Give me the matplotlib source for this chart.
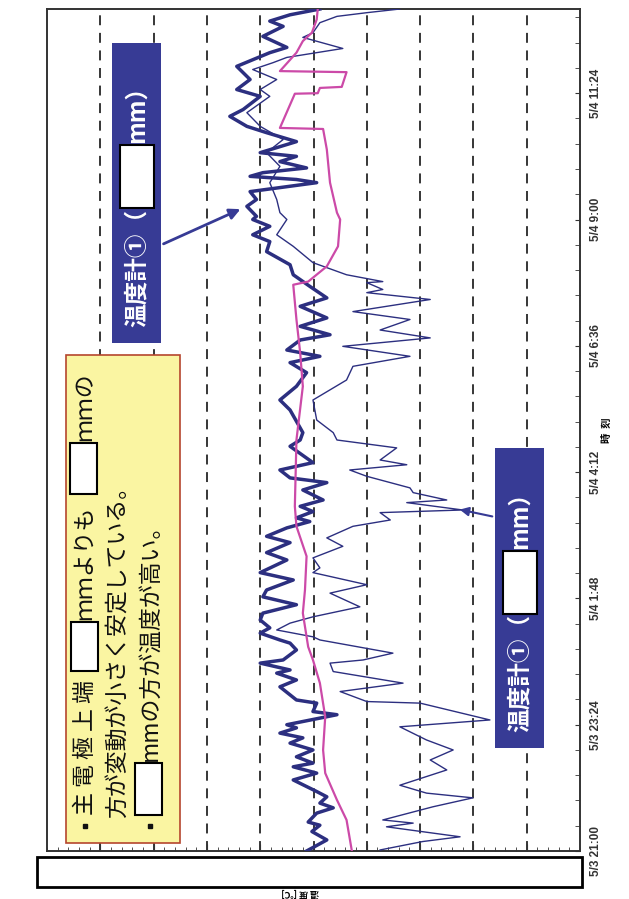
import numpy as np
import matplotlib
matplotlib.use('Agg')
import matplotlib.pyplot as plt
from matplotlib.patches import Rectangle
from datetime import datetime, timedelta

plt.rcParams['font.family'] = ['Noto Sans CJK JP', 'DejaVu Sans']

# hours after 5/3 21:00, temperature [C]
start = datetime(2000, 5, 3, 21, 0)

thick = [(0.00,25.13),(0.21,24.75),(0.37,25.03),(0.49,24.88),(0.55,25.10),(0.72,24.94),(0.82,24.63),
         (0.91,24.88),(1.03,24.75),(1.13,24.94),(1.35,25.38),(1.48,24.94),(1.60,25.38),(1.67,25.01),
         (1.79,25.32),(1.92,25.01),(2.05,25.44),(2.15,25.20),(2.24,25.63),(2.34,25.32),(2.40,25.50),
         (2.59,24.56),(2.65,25.01),(2.81,24.94),(2.87,25.32),(3.12,25.63),(3.25,25.32),(3.38,25.69),
         (3.44,25.44),(3.57,26.00),(3.63,25.57),(3.82,25.32),(3.95,25.44),(4.01,25.63),(4.14,26.00),
         (4.24,25.82),(4.39,26.00),(4.52,25.95),(4.68,25.32),(4.83,25.95),(4.96,25.88),(5.15,25.38),
         (5.29,26.00),(5.53,25.50),(5.67,25.88),(5.86,25.44),(5.98,25.88),(6.14,25.50),(6.26,25.07),
         (6.33,25.32),(6.45,25.01),(6.55,25.25),(6.67,24.82),(6.86,25.20),(7.00,24.75),(7.09,25.44),
         (7.24,25.63),(7.38,25.01),(7.69,25.44),(7.81,25.25),(7.95,25.20),(8.38,25.44),(8.57,25.63),
         (8.83,25.32),(9.09,25.13),(9.28,25.44),(9.40,24.88),(9.52,25.50),(9.71,25.25),(9.81,24.69),
         (9.97,25.25),(10.13,24.75),(10.35,25.25),(10.51,24.75),(10.73,25.07),(10.95,25.38),(11.14,25.44),
         (11.39,25.88),(11.58,25.82),(11.71,26.14),(11.87,25.82),(12.00,26.14),(12.06,26.07),(12.25,26.25),
         (12.38,26.07),(12.53,26.19),(12.70,24.94),(12.76,25.32),(12.82,26.19),(12.89,25.95),(12.98,25.13),
         (13.10,25.63),(13.20,25.32),(13.27,26.00),(13.48,25.32),(13.65,25.88),(13.77,26.25),(13.96,26.57),
         (14.09,26.32),(14.34,26.00),(14.47,26.44),(14.66,26.19),(14.91,26.44),(15.17,25.82),(15.27,25.50),
         (15.48,25.95),(15.67,25.57),(15.77,25.82),(15.89,25.44),(16.00,24.88)]

thin = [(0.02,23.75),(0.18,22.95),(0.27,22.25),(0.46,23.63),(0.53,23.13),(0.59,23.70),(0.84,22.76),
        (1.01,22.01),(1.10,22.88),(1.25,23.38),(1.54,22.50),(1.73,22.81),(1.92,22.38),(2.11,22.88),
        (2.36,23.38),(2.49,21.69),(2.81,23.00),(2.84,24.00),(3.03,24.50),(3.19,23.32),(3.41,24.63),
        (3.57,24.69),(3.63,24.07),(3.76,23.51),(4.01,24.88),(4.07,25.01),(4.20,25.69),(4.33,25.44),
        (4.45,25.01),(4.64,24.13),(4.90,24.69),(5.06,24.00),(5.29,25.01),(5.38,24.88),(5.57,25.01),
        (5.79,24.45),(5.95,24.75),(6.17,24.26),(6.29,23.56),(6.43,23.75),(6.48,22.20),(6.62,23.25),
        (6.67,22.50),(6.81,23.13),(6.90,23.19),(7.12,24.00),(7.24,24.32),(7.34,23.25),(7.43,23.75),
        (7.66,23.44),(7.81,24.56),(7.95,24.63),(8.19,24.94),(8.57,25.01),(8.95,24.38),(9.21,24.26),
        (9.40,23.19),(9.59,24.45),(9.75,22.81),(9.90,23.75),(10.10,23.19),(10.25,24.26),(10.35,23.63),
        (10.48,22.81),(10.61,24.00),(10.67,23.70),(10.80,24.00),(10.82,23.70),(10.95,24.38),(11.18,25.01),
        (11.49,25.38),(11.71,25.69),(12.00,25.50),(12.13,25.63),(12.38,25.69),(12.70,25.82),(13.01,25.63),
        (13.27,25.88),(13.52,25.57),(13.77,26.00),(14.03,26.25),(14.34,25.82),(14.47,26.00),(14.66,25.69),
        (14.85,26.14),(14.98,25.76),(15.08,25.50),(15.25,24.45),(15.46,25.20),(15.55,25.01),(15.74,24.88),
        (15.86,24.56),(15.93,24.00),(16.00,23.38)]

electrode = [(0.00,24.28),(0.59,24.38),(0.97,24.56),(1.48,24.78),(1.92,24.82),(2.55,24.78),(3.19,24.88),
             (3.63,25.01),(3.88,25.10),(4.52,25.20),(4.96,25.16),(5.60,25.13),(6.17,25.32),(6.55,25.35),
             (7.81,25.32),(8.83,25.20),(9.47,25.25),(10.10,25.32),(10.76,25.38),(10.82,25.10),(11.11,24.75),
             (11.49,24.54),(12.00,24.50),(12.13,24.56),(12.70,24.69),(13.33,24.75),(13.72,24.82),(13.74,25.63),
             (14.39,25.35),(14.40,24.92),(14.50,24.88),(14.52,24.47),(14.80,24.38),(14.82,25.63),(15.17,25.32),
             (15.39,25.20),(15.55,25.03),(15.80,24.94),(16.00,24.92)]

NAVY = '#2C2F80'
BOX_BLUE = '#373B95'
MAGENTA = '#CC4AA8'

W, H = 629, 899
fig = plt.figure(figsize=(W / 100, H / 100), dpi=100)
fig.patch.set_facecolor('white')

# chart is drawn turned on its side: temperature across, time upward
ax = fig.add_axes([47 / W, 1 - 851 / H, (580 - 47) / W, (851 - 9) / H])
for data, c, lw in [(thick, NAVY, 2.5), (thin, NAVY, 1.0), (electrode, MAGENTA, 1.6)]:
    h, t = np.array(data).T
    ax.plot(t, h, color=c, lw=lw, solid_joinstyle='round', zorder=3)

ax.set_xlim(30, 20)
ax.set_ylim(0, 16)
ax.set_xticks(np.arange(21, 30, 1))
ax.set_xticks(np.arange(20, 30.01, 0.2), minor=True)
ax.grid(axis='x', which='major', color='black', lw=1.1, linestyle=(0, (6.5, 5)))
ax.tick_params(axis='x', which='both', direction='in', labelbottom=False, color='#333333')
ax.tick_params(axis='x', which='major', length=5)
ax.tick_params(axis='x', which='minor', length=3)

major_h = np.arange(0, 16.01, 2.4)
labels = []
for v in major_h:
    d = start + timedelta(minutes=int(round(v * 60)))
    labels.append(f'{d.month}/{d.day} {d.hour}:{d.minute:02d}')
ax.yaxis.tick_right()
ax.set_yticks(major_h, labels=labels, rotation=90, va='center', fontsize=8.5,
              fontweight='bold', color='#333333',
              fontfamily=['Liberation Sans Narrow', 'Liberation Sans', 'DejaVu Sans'])
ax.set_yticks(np.arange(0, 16.01, 0.48), minor=True)
ax.tick_params(axis='y', which='both', direction='in', length=3.5, pad=7, color='#333333')
for s in ax.spines.values():
    s.set_color('#333333')
    s.set_linewidth(1.4)

# overlay in pixel units for the callouts
ov = fig.add_axes([0, 0, 1, 1], zorder=5)
ov.set_xlim(0, W)
ov.set_ylim(H, 0)
ov.axis('off')

ov.add_patch(Rectangle((37, 857), 545, 30, fc='white', ec='black', lw=2))
ov.text(300, 893, '温 度 [℃]', rotation=180, ha='center', va='center', fontsize=6.5, fontweight='bold')
ov.text(607, 430, '時  刻', rotation=90, ha='center', va='center', fontsize=7.5, fontweight='bold')

# yellow note
ov.add_patch(Rectangle((66, 355), 114, 488, fc='#FAF5A2', ec='#B5462E', lw=1.2))
fs = 16.5
kw = dict(rotation=90, ha='center', va='bottom', fontsize=fs, color='#111111')
ov.plot([85, 150], [826, 826], ls='none', marker='s', ms=3.2, color='#111111')
ov.text(85, 815, '主 電 極 上 端', **kw)
ov.add_patch(Rectangle((71, 622), 27, 49, fc='white', ec='black', lw=1.5))
ov.text(85, 620, 'ｍｍよりも', **kw)
ov.add_patch(Rectangle((70, 443), 27, 51, fc='white', ec='black', lw=1.5))
ov.text(85, 441, 'ｍｍの', **kw)
ov.text(118, 818, '方が変動が小さく安定している。', **kw)
ov.add_patch(Rectangle((135, 763), 27, 52, fc='white', ec='black', lw=1.5))
ov.text(150, 761, 'mmの方が温度が高い。', **kw)

# blue labels
bkw = dict(rotation=90, ha='center', va='bottom', fontsize=17, color='white', fontweight='bold')
for x0, y0, wy in [(112, 43, 145), (495, 448, 551)]:
    ov.add_patch(Rectangle((x0, y0), 49, 300, fc=BOX_BLUE, ec='none'))
    cx = x0 + 24.5
    ov.text(cx, y0 + 284, '温度計①（', **bkw)
    ov.add_patch(Rectangle((cx - 17, wy), 34, 63, fc='white', ec='black', lw=1.5))
    ov.text(cx, wy - 2, 'mm）', **bkw)

ov.annotate('', xy=(243, 208), xytext=(161, 245),
            arrowprops=dict(arrowstyle='-|>', color=BOX_BLUE, lw=2, mutation_scale=16))
ov.annotate('', xy=(457, 509), xytext=(495, 517),
            arrowprops=dict(arrowstyle='-|>', color=BOX_BLUE, lw=1.5, mutation_scale=13))

fig.savefig('out.png', dpi=100)
